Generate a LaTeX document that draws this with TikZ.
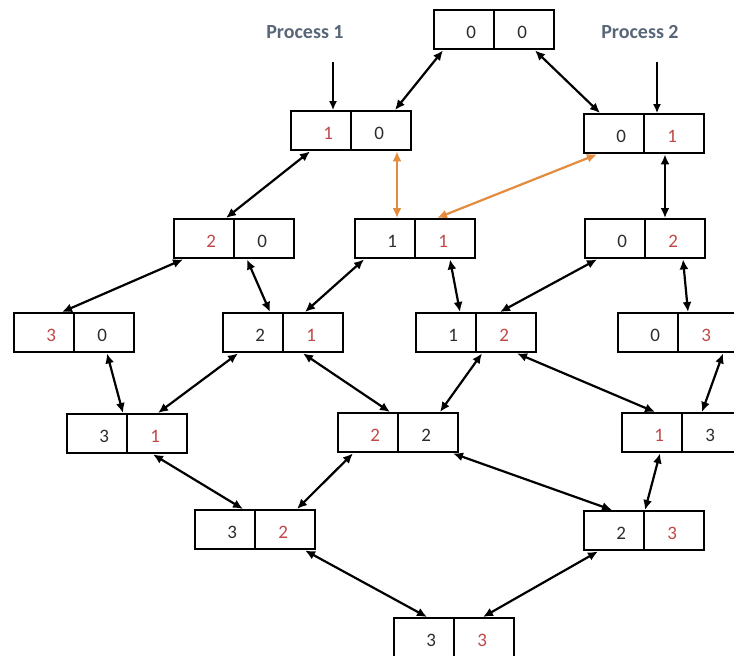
\documentclass[tikz,border=0pt]{standalone}
\usepackage{fontspec}
\setmainfont{Carlito}
\usetikzlibrary{arrows.meta}

\definecolor{digitred}{RGB}{192,72,72}
\definecolor{digitgray}{RGB}{45,45,45}
\definecolor{labelslate}{RGB}{88,102,120}
\definecolor{linkorange}{RGB}{228,140,62}

\tikzset{
  box/.style={draw, line width=2.4pt, minimum width=120pt, minimum height=39pt,
    inner sep=0pt, anchor=north west},
  divider/.style={line width=2.4pt},
  num/.style={font=\fontsize{19}{20}\selectfont, inner sep=0pt},
  plabel/.style={font=\fontsize{20}{22}\selectfont\bfseries, text=labelslate},
  dbl/.style={line width=2.2pt, {Latex[length=10pt,width=9pt]}-{Latex[length=10pt,width=9pt]}},
  odbl/.style={dbl, draw=linkorange, color=linkorange},
  feed/.style={line width=1.3pt, -{Latex[length=9pt,width=8pt]}},
}

% two-cell state box: name, left, top, left digit, right digit, left colour, right colour
\newcommand\stbox[7]{%
  \node[box] (#1) at (#2,#3) {};
  \draw[divider] (#1.north) -- (#1.south);
  \node[num, text=#6] (#1l) at ([xshift=-23pt,yshift=-3pt]#1.center) {#4};
  \node[num, text=#7] (#1r) at ([xshift=28pt,yshift=-3pt]#1.center) {#5};
}

\begin{document}
\begin{tikzpicture}[x=1pt, y=-1pt]
\clip (0,0) rectangle (734,656);
\fill[white] (0,0) rectangle (734,656);

\stbox{b00}{433}{9}{0}{0}{digitgray}{digitgray}
\stbox{b10}{290}{110}{1}{0}{digitred}{digitgray}
\stbox{b01}{583}{113}{0}{1}{digitgray}{digitred}
\stbox{b20}{173}{218}{2}{0}{digitred}{digitgray}
\stbox{b11}{354}{218}{1}{1}{digitgray}{digitred}
\stbox{b02}{584}{218}{0}{2}{digitgray}{digitred}
\stbox{b30}{13}{312}{3}{0}{digitred}{digitgray}
\stbox{b21}{222}{312}{2}{1}{digitgray}{digitred}
\stbox{b12}{415}{312}{1}{2}{digitgray}{digitred}
\stbox{b03}{617}{312}{0}{3}{digitgray}{digitred}
\stbox{b31}{66}{413}{3}{1}{digitgray}{digitred}
\stbox{b22}{337}{412}{2}{2}{digitred}{digitgray}
\stbox{b13}{621}{412}{1}{3}{digitred}{digitgray}
\stbox{b32}{194}{509}{3}{2}{digitgray}{digitred}
\stbox{b23}{583}{510}{2}{3}{digitgray}{digitred}
\stbox{b33}{393}{617}{3}{3}{digitgray}{digitred}

% process labels and their entry arrows
\node[plabel] (p1) at (305,32) {Process 1};
\node[plabel] (p2) at (640,32) {Process 2};
\coordinate (p1in) at (333,62);
\coordinate (p2in) at (657,62);
\draw[feed] (p1in) -- ([xshift=43pt]b10.north west);
\draw[feed] (p2in) -- ([xshift=74pt]b01.north west);

% transitions between states
\draw[dbl] ([xshift=10pt]b00.south west) -- ([xshift=105pt]b10.north west);
\draw[dbl] ([xshift=102pt]b00.south west) -- ([xshift=17pt]b01.north west);
\draw[dbl] ([xshift=20pt]b10.south west) -- ([xshift=53pt]b20.north west);
\draw[odbl] ([xshift=107pt]b10.south west) -- ([xshift=43pt]b11.north west);
\draw[odbl] ([xshift=14pt]b01.south west) -- ([xshift=83pt]b11.north west);
\draw[dbl] ([xshift=82pt]b01.south west) -- ([xshift=81pt]b02.north west);
\draw[dbl] ([xshift=10pt]b20.south west) -- ([xshift=49pt]b30.north west);
\draw[dbl] ([xshift=74pt]b20.south west) -- ([xshift=48pt]b21.north west);
\draw[dbl] ([xshift=10pt]b11.south west) -- ([xshift=83pt]b21.north west);
\draw[dbl] ([xshift=96pt]b11.south west) -- ([xshift=45pt]b12.north west);
\draw[dbl] ([xshift=13pt]b02.south west) -- ([xshift=85pt]b12.north west);
\draw[dbl] ([xshift=99pt]b02.south west) -- ([xshift=71pt]b03.north west);
\draw[dbl] ([xshift=94pt]b30.south west) -- ([xshift=57pt]b31.north west);
\draw[dbl] ([xshift=16pt]b21.south west) -- ([xshift=92pt]b31.north west);
\draw[dbl] ([xshift=81pt]b21.south west) -- ([xshift=53pt]b22.north west);
\draw[dbl] ([xshift=67pt]b12.south west) -- ([xshift=103pt]b22.north west);
\draw[dbl] ([xshift=102pt]b12.south west) -- ([xshift=34pt]b13.north west);
\draw[dbl] ([xshift=106pt]b03.south west) -- ([xshift=81pt]b13.north west);
\draw[dbl] ([xshift=87pt]b31.south west) -- ([xshift=49pt]b32.north west);
\draw[dbl] ([xshift=16pt]b22.south west) -- ([xshift=103pt]b32.north west);
\draw[dbl] ([xshift=116pt]b22.south west) -- ([xshift=29pt]b23.north west);
\draw[dbl] ([xshift=39pt]b13.south west) -- ([xshift=62pt]b23.north west);
\draw[dbl] ([xshift=111pt]b32.south west) -- ([xshift=34pt]b33.north west);
\draw[dbl] ([xshift=15pt]b23.south west) -- ([xshift=90pt]b33.north west);
\end{tikzpicture}
\end{document}
